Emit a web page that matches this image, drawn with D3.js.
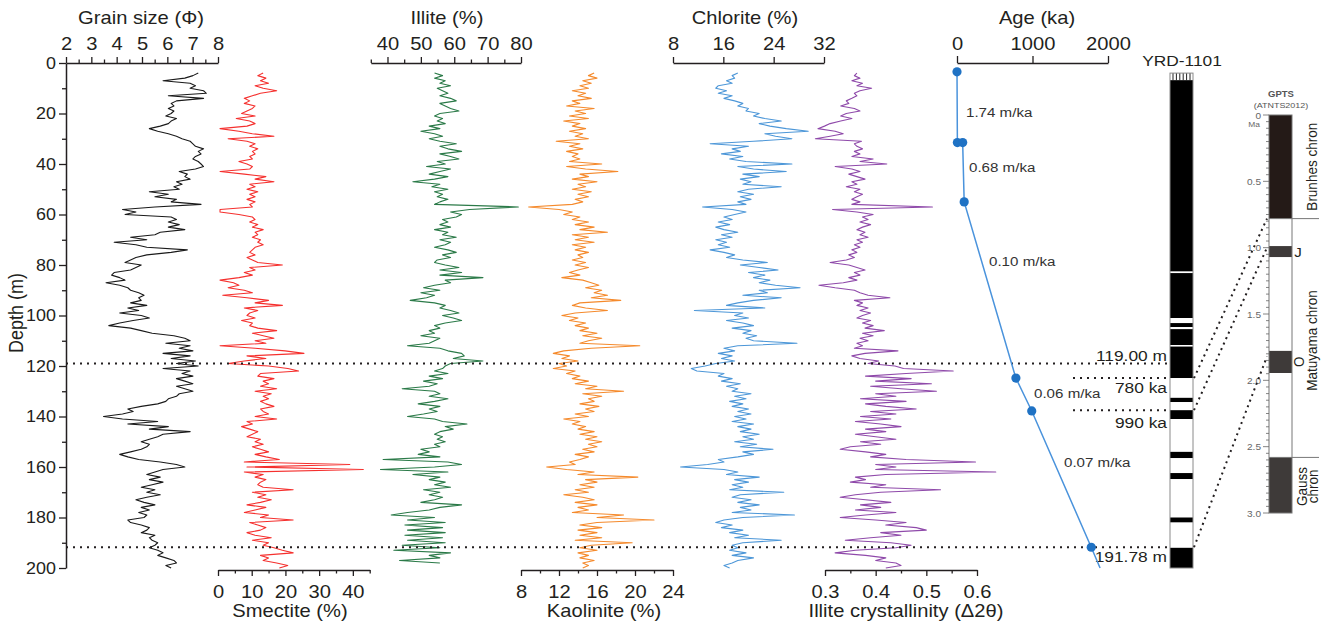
<!DOCTYPE html>
<html>
<head>
<meta charset="utf-8">
<script src="https://cdn.jsdelivr.net/npm/d3@7"></script>
<style>
  body { margin: 0; background: #fff; }
  svg { display: block; }
</style>
</head>
<body>
<svg width="1327" height="623"></svg>
<script>
// sample depths (m), one reading per metre
var depths = [4,5,6,7,8,9,10,11,12,13,14,15,16,17,18,19,20,21,22,23,24,25,26,27,28,29,30,31,32,33,
  34,35,36,37,38,39,40,41,42,43,44,45,46,47,48,49,50,51,52,53,54,55,56,57,58,59,60,61,62,63,
  64,65,66,67,68,69,70,71,72,73,74,75,76,77,78,79,80,81,82,83,84,85,86,87,88,89,90,91,92,93,
  94,95,96,97,98,99,100,101,102,103,104,105,106,107,108,109,110,111,112,113,114,115,116,117,118,119,120,121,122,123,
  124,125,126,127,128,129,130,131,132,133,134,135,136,137,138,139,140,141,142,143,144,145,146,147,148,149,150,151,152,153,
  154,155,156,157,158,159,160,161,162,163,164,165,166,167,168,169,170,171,172,173,174,175,176,177,178,179,180,181,182,183,
  184,185,186,187,188,189,190,191,192,193,194,195,196,197,198,199,200];

var grainSize = [7.22,7.01,6.69,5.83,6.90,7.11,6.90,7.43,7.54,6.04,
  7.43,6.36,6.15,6.26,6.04,6.26,6.15,5.94,6.36,6.15,
  6.04,5.72,5.29,5.62,6.04,6.36,6.58,6.90,7.01,7.11,
  7.43,7.22,7.33,7.11,7.01,7.22,7.33,7.43,7.11,6.47,
  6.79,6.69,6.90,6.36,6.58,6.26,6.47,5.29,6.04,5.51,
  6.36,6.15,7.33,5.51,4.23,4.76,4.33,6.15,6.36,6.04,
  6.47,6.04,6.69,5.72,5.51,4.55,5.19,3.90,4.76,5.19,
  6.79,6.15,5.19,4.76,4.55,4.33,4.97,4.76,4.55,3.90,
  3.80,4.12,4.33,3.58,4.12,4.44,4.55,4.87,5.08,4.87,
  4.97,4.55,5.19,4.44,4.87,4.12,4.97,5.29,4.65,4.12,
  3.69,4.55,4.97,5.40,6.26,6.69,6.90,5.94,6.90,6.47,
  7.01,5.83,6.90,6.15,7.11,6.36,7.22,5.83,6.90,6.58,
  7.01,6.36,6.69,7.01,6.36,6.69,7.01,6.47,6.36,6.04,
  5.94,5.62,4.97,4.44,4.65,4.23,3.48,4.23,5.62,4.44,
  6.04,5.29,6.90,5.83,5.62,5.29,4.97,5.29,5.19,4.97,
  4.55,4.12,4.44,4.87,5.72,6.36,6.69,5.83,5.51,5.19,
  5.72,5.29,5.83,5.40,4.97,5.51,5.19,5.72,5.19,4.76,
  5.08,5.51,4.97,5.29,4.87,5.19,5.08,4.44,4.55,4.97,
  5.29,5.19,4.97,5.51,5.29,5.40,5.62,5.51,5.29,5.62,
  5.83,5.62,5.94,6.26,6.36,5.94,6.15];

var smectite = [13.4,11.8,14.2,12.6,15.0,11.0,13.4,17.4,12.6,10.2,
  7.8,9.4,7.8,11.0,10.2,8.6,7.0,11.0,5.4,9.4,
  11.0,8.6,0.6,6.2,10.2,16.6,3.0,8.6,11.0,9.4,
  11.8,10.2,11.0,9.4,10.2,6.2,8.6,10.2,9.4,0.6,
  7.8,14.2,11.0,16.6,9.4,11.0,8.6,11.8,9.4,11.0,
  8.6,11.0,9.4,10.2,0.6,0.6,6.2,10.2,11.0,9.4,
  11.8,10.2,13.4,11.0,11.8,10.2,12.6,11.8,13.4,11.0,
  10.2,9.4,11.0,8.6,10.2,11.8,19.1,9.4,11.0,7.8,
  10.2,6.2,0.6,4.6,6.2,3.0,7.8,10.2,1.4,8.6,
  15.0,11.0,19.1,7.8,11.8,9.4,8.6,11.0,7.0,10.2,
  9.4,11.8,17.4,10.2,13.4,16.6,11.0,14.2,0.6,11.0,
  19.9,25.5,8.6,14.2,7.8,3.0,15.0,20.7,23.9,12.6,
  11.8,16.6,13.4,15.0,12.6,17.4,11.0,15.8,13.4,15.0,
  12.6,14.2,16.6,12.6,13.4,15.0,11.0,17.4,8.6,10.2,
  7.0,9.4,11.8,10.2,8.6,12.6,11.0,13.4,10.2,12.6,
  15.0,11.0,14.2,18.2,7.8,39.1,8.6,43.1,7.8,13.4,
  11.0,14.2,12.6,11.8,13.4,22.3,10.2,14.2,11.8,15.8,
  12.6,8.6,14.2,11.0,7.8,15.0,12.6,22.3,9.4,11.8,
  14.2,12.6,8.6,11.0,15.8,10.2,15.0,13.4,16.6,19.1,
  22.3,12.6,15.0,13.4,17.4,20.7,18.2];

var illite = [54.1,56.5,54.1,57.3,55.7,58.9,54.9,56.5,58.1,55.7,
  58.9,60.6,55.7,57.3,58.9,61.4,55.7,54.1,56.5,54.9,
  57.3,52.5,55.7,50.0,54.1,56.5,52.5,55.7,60.6,55.7,
  58.1,62.2,55.7,58.9,61.4,54.9,57.3,51.7,58.9,55.7,
  52.5,58.1,54.1,47.6,55.7,53.3,58.1,54.1,56.5,54.9,
  58.1,55.7,54.1,79.2,64.6,58.9,62.2,60.6,56.5,58.1,
  55.7,58.9,54.1,58.1,56.5,60.6,55.7,58.9,57.3,54.1,
  58.1,60.6,56.5,58.9,54.9,54.1,57.3,61.4,55.7,62.2,
  55.7,68.6,57.3,58.9,54.1,50.8,55.7,50.0,54.1,51.7,
  46.8,54.1,57.3,55.7,58.9,61.4,56.5,59.7,62.2,57.3,
  54.1,55.7,52.5,54.1,50.0,55.7,54.1,52.5,46.0,55.7,
  58.1,62.2,63.0,59.7,68.6,58.9,57.3,56.5,54.1,58.1,
  52.5,56.5,50.8,54.9,52.5,44.4,54.1,55.7,52.5,58.1,
  54.1,49.2,55.7,52.5,54.9,50.8,46.0,54.1,56.5,63.8,
  57.3,59.7,55.7,54.1,56.5,54.9,57.3,54.1,55.7,50.0,
  52.5,49.2,55.7,38.7,58.1,62.2,54.1,37.9,58.1,47.6,
  55.7,52.5,57.3,54.1,58.9,50.8,55.7,52.5,56.5,54.1,
  50.0,62.2,55.7,52.5,46.0,41.1,54.1,46.0,57.3,45.2,
  56.5,46.0,57.3,45.2,56.5,46.0,57.3,44.4,55.7,41.9,
  58.9,52.5,55.7,43.6,55.7,null,null];

var kaolinite = [15.7,15.1,16.0,14.5,15.4,14.2,15.1,13.4,14.8,14.0,
  15.4,13.4,14.2,12.8,15.7,13.7,14.8,13.1,15.1,12.5,
  14.2,13.4,14.8,13.1,14.5,13.7,15.1,11.7,14.2,13.1,
  14.5,12.8,14.0,13.4,14.2,13.1,16.5,12.8,14.8,18.2,
  14.2,15.1,13.4,16.0,14.0,14.8,13.4,15.4,14.0,15.1,
  13.7,14.5,13.4,8.8,12.0,13.4,12.5,14.2,13.4,15.1,
  13.7,15.7,14.2,17.1,13.4,15.1,13.7,15.7,13.4,14.8,
  13.7,15.1,14.0,14.5,13.4,14.8,13.7,15.1,14.0,13.1,
  14.2,12.3,14.5,15.4,16.2,14.8,16.5,15.7,17.1,15.4,
  18.5,14.2,13.4,14.8,17.1,13.7,12.3,14.0,13.1,14.8,
  13.7,15.1,14.2,16.0,14.5,16.5,15.1,14.2,20.5,15.4,
  12.5,11.4,13.1,12.3,14.0,12.0,12.8,11.4,13.7,12.8,
  14.2,13.4,15.1,13.7,16.0,14.8,18.8,14.5,16.5,15.1,
  15.7,14.2,16.2,14.8,15.7,13.7,15.1,12.5,14.2,13.4,
  14.8,14.0,15.7,14.2,16.0,14.8,16.5,15.1,16.0,14.5,
  15.7,13.7,15.1,14.2,13.1,13.7,10.7,12.8,15.7,14.0,
  20.3,14.8,16.0,14.2,15.7,13.7,15.1,12.5,14.5,15.7,
  13.7,16.0,14.0,15.1,13.4,18.8,16.0,22.0,16.0,14.2,
  16.5,14.0,16.0,14.2,16.5,13.7,19.7,15.4,14.2,16.0,
  14.0,15.1,14.2,15.7,14.5,15.1,14.5];

var chlorite = [18.3,17.4,17.8,16.5,17.4,15.2,14.8,16.5,15.2,17.4,
  16.1,17.8,19.1,18.3,20.0,19.6,21.7,20.8,22.6,25.2,
  21.7,23.4,26.0,29.5,22.6,24.3,26.9,20.8,13.9,20.0,
  17.4,18.7,15.7,19.1,17.0,19.6,26.9,18.3,20.8,26.0,
  19.1,21.7,18.7,20.4,19.1,25.2,20.0,18.3,20.8,18.7,
  20.4,18.3,19.6,12.7,17.4,19.6,17.8,16.1,17.4,15.2,
  17.0,14.8,16.1,18.3,15.7,17.4,14.8,16.5,15.2,17.0,
  13.9,16.1,17.8,16.5,19.1,23.0,18.7,21.7,24.7,20.0,
  22.6,20.8,23.4,21.7,24.3,28.2,21.7,23.0,19.1,25.2,
  20.8,18.3,16.5,22.6,11.4,19.1,17.8,20.0,16.5,19.1,
  20.8,17.4,20.4,19.1,21.3,19.6,20.8,27.7,18.3,16.1,
  17.8,15.2,17.4,15.7,17.8,14.8,13.1,10.9,11.8,16.1,
  15.2,17.4,15.7,18.7,16.5,18.3,17.4,20.4,17.8,19.6,
  17.0,19.1,17.4,20.0,18.3,20.4,17.8,19.6,17.4,20.8,
  18.3,20.4,18.7,21.7,19.1,20.8,17.8,21.3,18.7,23.9,
  19.1,20.8,18.3,15.2,16.1,13.5,9.2,16.1,18.3,16.5,
  21.7,17.8,20.0,17.4,19.1,17.0,25.6,18.7,17.4,20.4,
  18.3,21.7,18.7,20.4,17.4,27.3,19.1,16.1,14.8,17.4,
  15.7,19.1,17.0,20.0,17.8,25.2,19.1,17.4,18.3,17.0,
  19.6,17.4,20.8,18.3,17.4,16.1,17.0];

var crystallinity = [.363,.358,.369,.353,.374,.363,.392,.369,.358,.363,
  .353,.342,.347,.331,.358,.369,.342,.331,.353,.331,
  .310,.299,.286,.320,.336,.310,.281,.372,.358,.363,
  .374,.358,.369,.353,.395,.369,.422,.320,.353,.369,
  .347,.363,.379,.353,.363,.342,.369,.358,.374,.363,
  .353,.369,.353,.512,.315,.363,.395,.374,.385,.369,
  .390,.374,.363,.379,.369,.385,.363,.374,.358,.369,
  .353,.363,.347,.358,.342,.310,.347,.363,.379,.358,
  .369,.347,.363,.336,.288,.320,.358,.369,.385,.428,
  .358,.374,.363,.385,.369,.390,.374,.363,.390,.374,
  .395,.379,.417,.374,.395,.369,.385,.363,.374,.358,
  .444,.379,.353,.369,.406,.385,.438,.455,.553,.460,
  .380,.470,.400,.510,.390,.450,.520,.400,.440,.370,
  .460,.380,.420,.480,.390,.440,.370,.430,.360,.410,
  .450,.380,.420,.360,.400,.440,.370,.410,.350,.330,
  .380,.420,.390,.460,.597,.400,.440,.400,.637,.420,
  .360,.380,.350,.420,.390,.528,.410,.360,.330,.380,
  .430,.370,.410,.360,.440,.380,.330,.400,.460,.420,
  .480,.500,.410,.450,.390,.340,.430,.470,.440,.360,
  .320,.380,.420,.400,.440,.450,.420];

// age model
var ageDepth = [3.5, 31.5, 31.5, 55, 124.8, 137.8, 191.78];
var ageKa = [0, 5, 75, 95, 780, 990, 1778];
var ageLineDepth = [3.5, 31.5, 31.5, 55, 124.8, 137.8, 191.78, 200];
var ageLineKa = [0, 5, 75, 95, 780, 990, 1778, 1895];
var rateText = ["1.74 m/ka", "0.68 m/ka", "0.10 m/ka", "0.06 m/ka", "0.07 m/ka"];
var rateDepth = [19.8, 41.2, 78.8, 131, 158.4];
var rateAge = [119, 159, 424, 1020, 1417];

// YRD-1101 magnetostratigraphy: top, base (m), polarity
var polTop  = [6.8, 82.6, 83.2, 101, 103, 104.6, 105.4, 111.7, 112.3, 124.8, 132.6, 134.3, 137.5, 141, 154, 156.5, 162.4, 164.8, 180, 182, 192];
var polBase = [82.6, 83.2, 101, 103, 104.6, 105.4, 111.7, 112.3, 124.8, 132.6, 134.3, 137.5, 141, 154, 156.5, 162.4, 164.8, 180, 182, 192, 200];
var polNormal = [1,0,1,0,1,0,1,0,1,0,1,0,1,0,1,0,1,0,1,0,1];

// GPTS (ATNTS2012), Ma
var chronTop  = [0, 0.781, 0.988, 1.072, 1.778, 1.945, 2.581];
var chronBase = [0.781, 0.988, 1.072, 1.778, 1.945, 2.581, 3.0];
var chronNormal = [1,0,1,0,1,0,1];

// tie points and marked levels
var tieDepth = [124.8, 137.5, 191.78];
var tieMa = [0.781, 1.0, 1.82];
var markDepth = [119, 191.78];
var shortMarkDepth = [124.8, 137.5];
var markText = ["119.00 m", "780 ka", "990 ka", "191.78 m"];
var markTextDepth = [116, 128.7, 142.2, 195.6];

var FONT = "'Liberation Sans', Arial, Helvetica, sans-serif";
var INK = "#231f20";
var stretch = "scale(1.12,1)";

var svg = d3.select("svg").attr("font-family", FONT);

var y = d3.scaleLinear().domain([0, 200]).range([63, 568]);

var xGrain = d3.scaleLinear().domain([2, 8]).range([66, 218]);
var xSmec = d3.scaleLinear().domain([0, 45]).range([218, 369.7]);
var xIll = d3.scaleLinear().domain([35, 80]).range([370.8, 521]);
var xKao = d3.scaleLinear().domain([8, 24]).range([521, 673]);
var xChl = d3.scaleLinear().domain([8, 32]).range([673, 824]);
var xIC = d3.scaleLinear().domain([0.3, 0.6]).range([825, 977]);
var xAge = d3.scaleLinear().domain([0, 2000]).range([957, 1108]);
var yG = d3.scaleLinear().domain([0, 3]).range([115, 513]);

function text(x, yy, t, size, anchor) {
  return svg.append("text")
    .attr("transform", "translate(" + x + "," + yy + ") " + stretch)
    .attr("text-anchor", anchor || "middle")
    .attr("font-size", size)
    .attr("fill", INK)
    .text(t);
}

function hAxis(scale, ticks, majors, fmt, ypos, bottom, bigTick) {
  var isMajor = function(d) { return majors.some(function(m) { return Math.abs(m - d) < 1e-9; }); };
  var big = bigTick || 6;
  var ax = (bottom ? d3.axisBottom(scale) : d3.axisTop(scale))
      .tickValues(ticks).tickSize(big).tickSizeOuter(0)
      .tickPadding(bottom ? 9 : 13 - big)
      .tickFormat(function(d) { return isMajor(d) ? fmt(d) : ""; });
  var g = svg.append("g")
      .attr("transform", "translate(0," + ypos + ")")
      .call(ax)
      .attr("font-family", FONT).attr("font-size", 18);
  g.select(".domain").attr("stroke", INK).attr("stroke-width", 1.5);
  g.selectAll(".tick line").attr("stroke", INK).attr("stroke-width", 1.3)
    .attr("y2", function(d) { return (bottom ? 1 : -1) * (isMajor(d) ? big : 3.5); });
  g.selectAll(".tick text").attr("fill", INK).attr("transform", stretch);
  return g;
}

// depth axis
var depthTicks = d3.range(0, 201, 10);
var dAx = d3.axisLeft(y).tickValues(depthTicks).tickSize(7).tickSizeOuter(0).tickPadding(2)
  .tickFormat(function(d) { return d % 20 == 0 ? d : ""; });
var dg = svg.append("g").attr("transform", "translate(66,0)").call(dAx)
  .attr("font-family", FONT).attr("font-size", 16);
dg.select(".domain").attr("stroke", INK).attr("stroke-width", 1.5);
dg.selectAll(".tick line").attr("stroke", INK).attr("stroke-width", 1.3)
  .attr("x2", function(d) { return d % 20 == 0 ? -7 : -4; });
dg.selectAll(".tick text").attr("fill", INK).attr("transform", stretch);
svg.append("text")
  .attr("transform", "translate(23,313) " + stretch + " rotate(-90)")
  .attr("text-anchor", "middle").attr("font-size", 18).attr("fill", INK)
  .text("Depth (m)");

// proxy axes
var f0 = d3.format("d"), f1 = d3.format(".1f");
hAxis(xGrain, d3.range(2, 8.01, 0.5), [2,3,4,5,6,7,8], f0, 63, false);
hAxis(xSmec, d3.range(0, 45.01, 5), [0,10,20,30,40], f0, 570, true);
hAxis(xIll, d3.range(35, 80.01, 5), [40,50,60,70,80], f0, 63, false);
hAxis(xKao, d3.range(8, 24.01, 2), [8,12,16,20,24], f0, 570, true);
hAxis(xChl, [8,16,24,32], [8,16,24,32], f0, 63, false);
hAxis(xIC, d3.range(0.3, 0.601, 0.05), [0.3,0.4,0.5,0.6], f1, 570, true);
hAxis(xAge, [0,1000,2000], [0,1000,2000], f0, 63, false, 7);

text(141, 24, "Grain size (\u03A6)", 18);
text(447, 24, "Illite (%)", 18);
text(745, 24, "Chlorite (%)", 18);
text(1037, 24, "Age (ka)", 18);
text(290, 617, "Smectite (%)", 18);
text(604, 617, "Kaolinite (%)", 18);
text(906, 617, "Illite crystallinity (\u03942\u03B8)", 18);

// curves
var series = [
  { vals: grainSize, x: xGrain, color: "#1a1a1a" },
  { vals: smectite, x: xSmec, color: "#f5302e" },
  { vals: illite, x: xIll, color: "#2b7a48" },
  { vals: kaolinite, x: xKao, color: "#f58a2c" },
  { vals: chlorite, x: xChl, color: "#4d97d8" },
  { vals: crystallinity, x: xIC, color: "#8f4aaa" }
];
series.forEach(function(s) {
  var pts = depths.map(function(d, i) { return { d: d, v: s.vals[i] }; });
  var line = d3.line()
    .defined(function(p) { return p.v != null; })
    .x(function(p) { return s.x(p.v); })
    .y(function(p) { return y(p.d); });
  svg.append("path").datum(pts)
    .attr("fill", "none").attr("stroke", s.color).attr("stroke-width", 1.1)
    .attr("stroke-linejoin", "round")
    .attr("d", line);
});

// dotted marker lines
svg.selectAll(".mark").data(markDepth).enter().append("line")
  .attr("x1", 66).attr("x2", 1168)
  .attr("y1", function(d) { return y(d); }).attr("y2", function(d) { return y(d); })
  .attr("stroke", INK).attr("stroke-width", 2).attr("stroke-dasharray", "2,5");
svg.selectAll(".smark").data(shortMarkDepth).enter().append("line")
  .attr("x1", 1073).attr("x2", 1168)
  .attr("y1", function(d) { return y(d); }).attr("y2", function(d) { return y(d); })
  .attr("stroke", INK).attr("stroke-width", 2).attr("stroke-dasharray", "2,5");
markText.forEach(function(t, i) {
  text(1167, y(markTextDepth[i]) + 5.5, t, 15.5, "end");
});

// age-depth model
var ageLine = d3.line()
  .x(function(i) { return xAge(ageLineKa[i]); })
  .y(function(i) { return y(ageLineDepth[i]); });
svg.append("path").datum(d3.range(ageLineKa.length))
  .attr("fill", "none").attr("stroke", "#4a93dc").attr("stroke-width", 1.5)
  .attr("d", ageLine);
svg.selectAll(".agept").data(ageKa).enter().append("circle")
  .attr("cx", function(d) { return xAge(d); })
  .attr("cy", function(d, i) { return y(ageDepth[i]); })
  .attr("r", 4.6).attr("fill", "#1f72c4");
rateText.forEach(function(t, i) {
  text(xAge(rateAge[i]), y(rateDepth[i]) + 4.5, t, 13.5, "start").attr("fill", "#333");
});

// YRD-1101 polarity column
var cx0 = 1170, cw = 23;
text(1182, 66, "YRD-1101", 15.5);
svg.append("rect").attr("x", cx0).attr("y", y(4)).attr("width", cw).attr("height", y(6.8) - y(4))
  .attr("fill", "#fff");
svg.selectAll(".hatch").data(d3.range(cx0 + 3, cx0 + cw - 1, 3.4)).enter().append("line")
  .attr("x1", function(d) { return d; }).attr("x2", function(d) { return d; })
  .attr("y1", y(4)).attr("y2", y(6.8))
  .attr("stroke", "#222").attr("stroke-width", 1);
svg.selectAll(".pol").data(polTop).enter().append("rect")
  .attr("x", cx0).attr("width", cw)
  .attr("y", function(d) { return y(d); })
  .attr("height", function(d, i) { return y(polBase[i]) - y(d); })
  .attr("fill", function(d, i) { return polNormal[i] ? "#000" : "#fff"; });
svg.append("rect").attr("x", cx0).attr("y", y(4)).attr("width", cw).attr("height", y(200) - y(4))
  .attr("fill", "none").attr("stroke", "#8a8a8a").attr("stroke-width", 1);

// GPTS column
var gx0 = 1269, gw = 23;
text(1281, 97, "GPTS", 8.5).attr("font-weight", "bold").attr("fill", "#555");
text(1281, 107.5, "(ATNTS2012)", 8).attr("fill", "#555");
svg.selectAll(".chron").data(chronTop).enter().append("rect")
  .attr("x", gx0).attr("width", gw)
  .attr("y", function(d) { return yG(d); })
  .attr("height", function(d, i) { return yG(chronBase[i]) - yG(d); })
  .attr("fill", function(d, i) { return chronNormal[i] ? (i == 0 ? "#241a17" : "#3e3a39") : "#fff"; });
svg.append("rect").attr("x", gx0).attr("y", yG(0)).attr("width", gw).attr("height", yG(3) - yG(0))
  .attr("fill", "none").attr("stroke", "#777").attr("stroke-width", 1);
var gTicks = d3.range(0, 3.001, 0.05);
svg.selectAll(".gtick").data(gTicks).enter().append("line")
  .attr("x1", gx0).attr("x2", function(d) { return Math.abs(d / 0.5 - Math.round(d / 0.5)) < 1e-6 ? gx0 - 6 : gx0 - 3; })
  .attr("y1", function(d) { return yG(d); }).attr("y2", function(d) { return yG(d); })
  .attr("stroke", "#666").attr("stroke-width", 0.8);
[0, 0.5, 1, 1.5, 2, 2.5, 3].forEach(function(d) {
  text(1261, yG(d) + 3.5, d == 0 ? "0" : d3.format(".1f")(d), 9, "end").attr("fill", "#666");
});
text(1260, yG(0) + 11.5, "Ma", 7.5, "end").attr("fill", "#666");
[0.781, 2.581].forEach(function(d) {
  svg.append("line").attr("x1", gx0).attr("x2", 1319)
    .attr("y1", yG(d)).attr("y2", yG(d)).attr("stroke", "#777").attr("stroke-width", 1);
});
svg.append("text").attr("transform", "translate(1317," + yG(0.39) + ") " + stretch + " rotate(-90)")
  .attr("text-anchor", "middle").attr("font-size", 13.5).attr("fill", INK).text("Brunhes chron");
svg.append("text").attr("transform", "translate(1317," + yG(1.7) + ") " + stretch + " rotate(-90)")
  .attr("text-anchor", "middle").attr("font-size", 13.5).attr("fill", INK).text("Matuyama chron");
svg.append("text").attr("transform", "translate(1307," + yG(2.8) + ") " + stretch + " rotate(-90)")
  .attr("text-anchor", "middle").attr("font-size", 13.5).attr("fill", INK).text("Gauss");
svg.append("text").attr("transform", "translate(1318," + yG(2.8) + ") " + stretch + " rotate(-90)")
  .attr("text-anchor", "middle").attr("font-size", 13.5).attr("fill", INK).text("chron");
text(1298, yG(1.03) + 5, "J", 13.5, "middle");
svg.append("text").attr("transform", "translate(1304," + yG(1.86) + ") " + stretch + " rotate(-90)")
  .attr("text-anchor", "middle").attr("font-size", 13.5).attr("fill", INK).text("O");

// tie lines between core and GPTS
svg.selectAll(".tie").data(tieDepth).enter().append("line")
  .attr("x1", cx0 + cw + 1).attr("y1", function(d) { return y(d); })
  .attr("x2", gx0 - 2).attr("y2", function(d, i) { return yG(tieMa[i]); })
  .attr("stroke", INK).attr("stroke-width", 2).attr("stroke-dasharray", "2,4");
</script>
</body>
</html>
